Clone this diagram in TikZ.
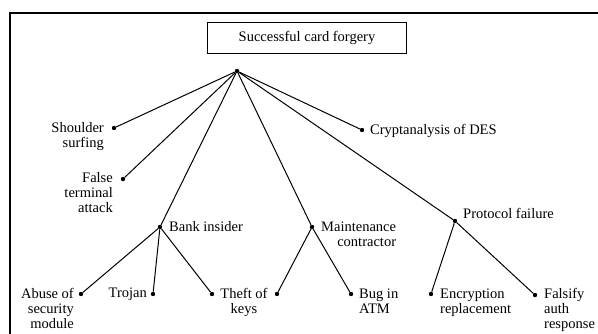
\documentclass[tikz,border=0pt]{standalone}
\usepackage{fontspec}
\setmainfont{Liberation Serif}
\usetikzlibrary{positioning}

\begin{document}
\begin{tikzpicture}[x=1pt, y=-1pt,
  every node/.style={font=\fontsize{14.5}{15}\selectfont},
  dot/.style={circle, fill=black, inner sep=0pt, minimum size=4.4pt},
  lbl/.style={inner sep=0pt},
  edge/.style={line width=1pt}]
\useasboundingbox (0,0) rectangle (598,334);

% --- frame ---
\draw[line width=1.3pt] (10,334) -- (10,13) -- (598,13);

% --- goal ---
\node[draw, line width=1.6pt, minimum width=199pt, minimum height=31pt] (goal) at (307,38) {Successful card forgery};
\node[dot] (root) at (237,71) {};

% --- first level (base = last line) ---
\node[dot] (sh) at (114,128) {};
\node[lbl, anchor=base east, align=right] (shl) at (104,148) {Shoulder\\surfing};
\node[dot] (ft) at (123,179) {};
\node[lbl, anchor=base east, align=right] (ftl) at (113,213) {False\\terminal\\attack};
\node[dot] (bi) at (160,227) {};
\node[lbl, anchor=base west] (bil) at (169,232) {Bank insider};
\node[dot] (mc) at (312,227) {};
\node[lbl, anchor=base west, align=right] (mcl) at (321,247) {Maintenance\\contractor};
\node[dot] (pf) at (455,221) {};
\node[lbl, anchor=base west] (pfl) at (463,219) {Protocol failure};
\node[dot] (cd) at (362,130) {};
\node[lbl, anchor=base west] (cdl) at (370,135) {Cryptanalysis of DES};

% --- leaves ---
\node[dot] (ab) at (81,294) {};
\node[lbl, anchor=base east, align=right] (abl) at (74,328) {Abuse of\\security\\module};
\node[dot] (tr) at (153,294) {};
\node[lbl, anchor=base east] (trl) at (147,298) {Trojan};
\node[dot] (tk) at (212,294) {};
\node[dot] (tk2) at (277,294) {};
\node[lbl, anchor=base, align=center] (tkl) at (244,313) {Theft of\\keys};
\node[dot] (bug) at (351,294) {};
\node[lbl, anchor=base west, align=left] (bugl) at (359,313) {Bug in\\ATM};
\node[dot] (er) at (431,294) {};
\node[lbl, anchor=base west, align=left] (erl) at (440,313) {Encryption\\replacement};
\node[dot] (fa) at (535,295) {};
\node[lbl, anchor=base west, align=left] (fal) at (544,328) {Falsify\\auth\\response};

% --- edges ---
\foreach \n in {sh, ft, bi, mc, pf, cd}
  \draw[edge] (root) -- (\n);
\foreach \n in {ab, tr, tk}
  \draw[edge] (bi) -- (\n);
\foreach \n in {tk2, bug}
  \draw[edge] (mc) -- (\n);
\foreach \n in {er, fa}
  \draw[edge] (pf) -- (\n);
\end{tikzpicture}
\end{document}
